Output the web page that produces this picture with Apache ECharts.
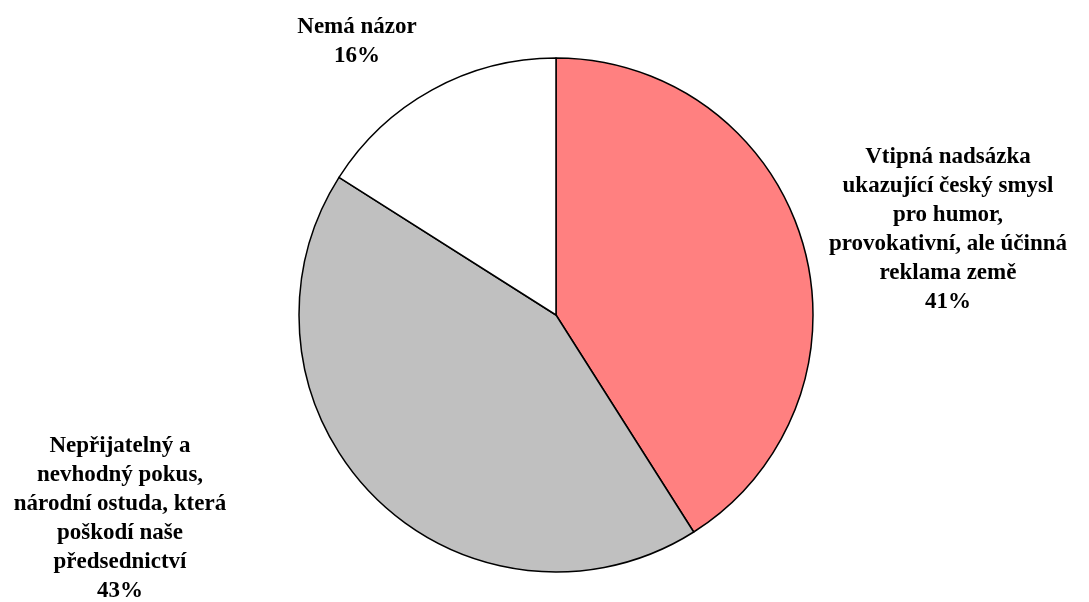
<!DOCTYPE html>
<html>
<head>
<meta charset="utf-8">
<script src="https://cdn.jsdelivr.net/npm/echarts@6/dist/echarts.min.js"></script>
<style>html,body{margin:0;padding:0;background:#fff}#c{width:1089px;height:602px}</style>
</head>
<body>
<div id="c"></div>
<script>
const categories = [
  'Vtipná nadsázka\nukazující český smysl\npro humor,\nprovokativní, ale účinná\nreklama země',
  'Nepřijatelný a\nnevhodný pokus,\nnárodní ostuda, která\npoškodí naše\npředsednictví',
  'Nemá názor'
];
const values = [41, 43, 16];
const colors = ['#FF8080', '#C0C0C0', '#FFFFFF'];
const labelPos = [[948, 230], [120, 519], [357, 42]];

const chart = echarts.init(document.getElementById('c'));
chart.setOption({
  animation: false,
  series: [{
    type: 'pie',
    center: [556, 315],
    radius: 257,
    startAngle: 90,
    clockwise: true,
    data: categories.map((c, i) => ({ name: c, value: values[i], itemStyle: { color: colors[i] } })),
    itemStyle: { borderColor: '#000', borderWidth: 1.5 },
    label: {
      show: true,
      formatter: '{b}\n{d}%',
      fontFamily: 'Liberation Serif',
      fontWeight: 'bold',
      fontSize: 23,
      lineHeight: 29,
      color: '#000',
      align: 'center',
      overflow: 'none'
    },
    labelLine: { show: false },
    labelLayout: function (p) {
      const pos = labelPos[p.dataIndex];
      return { x: pos[0], y: pos[1], align: 'center', verticalAlign: 'middle' };
    }
  }]
});
</script>
</body>
</html>
